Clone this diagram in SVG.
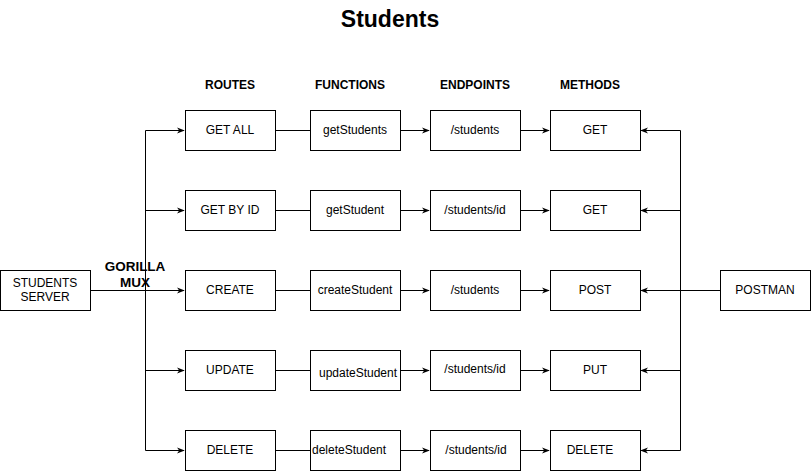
<svg xmlns="http://www.w3.org/2000/svg" width="811" height="471" viewBox="0 0 811 471">
<style>
.box{fill:#fff;stroke:#000;stroke-width:1}
.t{font-family:"Liberation Sans",Arial,sans-serif;font-size:12px;fill:#000;text-anchor:middle;dominant-baseline:central}
.h{font-family:"Liberation Sans",Arial,sans-serif;font-size:12px;font-weight:bold;fill:#000;text-anchor:middle;dominant-baseline:central}
.c{fill:none;stroke:#000;stroke-width:1}
</style>
<defs>
<marker id="a" viewBox="0 0 10 10" refX="9" refY="5" markerWidth="8" markerHeight="8" markerUnits="userSpaceOnUse" orient="auto">
<path d="M0,1 L10,5 L0,9 L3,5 Z" fill="#000"/>
</marker>
</defs>
<rect width="811" height="471" fill="#fff"/>
<text x="390" y="19" class="h" style="font-size:23px">Students</text>
<g id="headers">
<text x="230" y="85" class="h">ROUTES</text>
<text x="350" y="85" class="h">FUNCTIONS</text>
<text x="475" y="85" class="h">ENDPOINTS</text>
<text x="590" y="85" class="h">METHODS</text>
<text x="135" y="266" class="h" style="font-size:13.5px">GORILLA</text>
<text x="135" y="282" class="h" style="font-size:13.5px">MUX</text>
</g>
<g id="connectors">
<path class="c" d="M90.5,290.5 H184" marker-end="url(#a)"/>
<path class="c" d="M145.5,450.5 V130.5 H184" marker-end="url(#a)"/>
<path class="c" d="M145.5,210.5 H184" marker-end="url(#a)"/>
<path class="c" d="M145.5,370.5 H184" marker-end="url(#a)"/>
<path class="c" d="M145.5,450.5 H184" marker-end="url(#a)"/>
<path class="c" d="M720.5,290.5 H641" marker-end="url(#a)"/>
<path class="c" d="M680.5,450.5 V130.5 H641" marker-end="url(#a)"/>
<path class="c" d="M680.5,210.5 H641" marker-end="url(#a)"/>
<path class="c" d="M680.5,370.5 H641" marker-end="url(#a)"/>
<path class="c" d="M680.5,450.5 H641" marker-end="url(#a)"/>
<path class="c" d="M275.5,130.5 H310"/>
<path class="c" d="M275.5,210.5 H310"/>
<path class="c" d="M275.5,290.5 H310"/>
<path class="c" d="M275.5,370.5 H310"/>
<path class="c" d="M275.5,450.5 H310"/>
<path class="c" d="M400.5,130.5 H429" marker-end="url(#a)"/>
<path class="c" d="M400.5,210.5 H429" marker-end="url(#a)"/>
<path class="c" d="M400.5,290.5 H429" marker-end="url(#a)"/>
<path class="c" d="M400.5,370.5 H429" marker-end="url(#a)"/>
<path class="c" d="M400.5,450.5 H429" marker-end="url(#a)"/>
<path class="c" d="M520.5,130.5 H549" marker-end="url(#a)"/>
<path class="c" d="M520.5,210.5 H549" marker-end="url(#a)"/>
<path class="c" d="M520.5,290.5 H549" marker-end="url(#a)"/>
<path class="c" d="M520.5,370.5 H549" marker-end="url(#a)"/>
<path class="c" d="M520.5,450.5 H549" marker-end="url(#a)"/>
</g>
<g id="server"><rect class="box" x="0.5" y="270.5" width="90" height="40"/><text class="t" x="45" y="283">STUDENTS</text><text class="t" x="45" y="297">SERVER</text></g>
<g id="postman"><rect class="box" x="720.5" y="270.5" width="90" height="40"/><text class="t" x="765" y="290">POSTMAN</text></g>
<g id="r1"><rect class="box" x="185.5" y="110.5" width="90" height="40"/><text class="t" x="230" y="130">GET ALL</text></g>
<g id="r2"><rect class="box" x="185.5" y="190.5" width="90" height="40"/><text class="t" x="230" y="210">GET BY ID</text></g>
<g id="r3"><rect class="box" x="185.5" y="270.5" width="90" height="40"/><text class="t" x="230" y="290">CREATE</text></g>
<g id="r4"><rect class="box" x="185.5" y="350.5" width="90" height="40"/><text class="t" x="230" y="370">UPDATE</text></g>
<g id="r5"><rect class="box" x="185.5" y="430.5" width="90" height="40"/><text class="t" x="230" y="450">DELETE</text></g>
<g id="f1"><rect class="box" x="310.5" y="110.5" width="90" height="40"/><text class="t" x="355" y="130">getStudents</text></g>
<g id="f2"><rect class="box" x="310.5" y="190.5" width="90" height="40"/><text class="t" x="355" y="210">getStudent</text></g>
<g id="f3"><rect class="box" x="310.5" y="270.5" width="90" height="40"/><text class="t" x="355" y="290">createStudent</text></g>
<g id="f4"><rect class="box" x="310.5" y="350.5" width="90" height="40"/><text class="t" x="358" y="373">updateStudent</text></g>
<g id="f5"><rect class="box" x="310.5" y="430.5" width="90" height="40"/><text class="t" x="312" y="450" style="text-anchor:start">deleteStudent</text></g>
<g id="e1"><rect class="box" x="430.5" y="110.5" width="90" height="40"/><text class="t" x="475" y="130">/students</text></g>
<g id="e2"><rect class="box" x="430.5" y="190.5" width="90" height="40"/><text class="t" x="475" y="210">/students/id</text></g>
<g id="e3"><rect class="box" x="430.5" y="270.5" width="90" height="40"/><text class="t" x="475" y="290">/students</text></g>
<g id="e4"><rect class="box" x="430.5" y="350.5" width="90" height="40"/><text class="t" x="475" y="369">/students/id</text></g>
<g id="e5"><rect class="box" x="430.5" y="430.5" width="90" height="40"/><text class="t" x="476" y="450">/students/id</text></g>
<g id="m1"><rect class="box" x="550.5" y="110.5" width="90" height="40"/><text class="t" x="595" y="130">GET</text></g>
<g id="m2"><rect class="box" x="550.5" y="190.5" width="90" height="40"/><text class="t" x="595" y="210">GET</text></g>
<g id="m3"><rect class="box" x="550.5" y="270.5" width="90" height="40"/><text class="t" x="595" y="290">POST</text></g>
<g id="m4"><rect class="box" x="550.5" y="350.5" width="90" height="40"/><text class="t" x="595" y="370">PUT</text></g>
<g id="m5"><rect class="box" x="550.5" y="430.5" width="90" height="40"/><text class="t" x="590" y="450">DELETE</text></g>
</svg>
